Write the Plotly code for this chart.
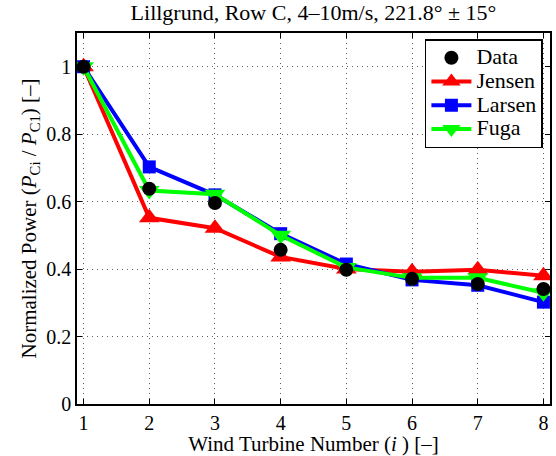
import plotly.graph_objects as go

turbines = [1, 2, 3, 4, 5, 6, 7, 8]
data_vals = [1.0, 0.638, 0.596, 0.457, 0.398, 0.371, 0.356, 0.341]
jensen_vals = [1.0, 0.552, 0.521, 0.436, 0.400, 0.392, 0.398, 0.380]
larsen_vals = [1.0, 0.703, 0.620, 0.505, 0.415, 0.368, 0.352, 0.302]
fuga_vals = [1.0, 0.633, 0.622, 0.500, 0.405, 0.374, 0.374, 0.330]
x_ticks = [1, 2, 3, 4, 5, 6, 7, 8]
y_ticks = [0, 0.2, 0.4, 0.6, 0.8, 1]
y_labels = ["0", "0.2", "0.4", "0.6", "0.8", "1"]

font = "Liberation Serif"


def leg(name):
    return f"<span style='font-size:22px;font-family:Liberation Serif'>{name}</span>"


fig = go.Figure()
fig.add_trace(go.Scatter(x=turbines, y=jensen_vals, name=leg("Jensen"), mode="lines+markers",
                         line=dict(color="#ff0000", width=4),
                         marker=dict(symbol="triangle-up", size=18, color="#ff0000"), legendrank=2))
fig.add_trace(go.Scatter(x=turbines, y=larsen_vals, name=leg("Larsen"), mode="lines+markers",
                         line=dict(color="#0000ff", width=4),
                         marker=dict(symbol="square", size=13, color="#0000ff"), legendrank=3))
fig.add_trace(go.Scatter(x=turbines, y=fuga_vals, name=leg("Fuga"), mode="lines+markers",
                         line=dict(color="#00ff00", width=4),
                         marker=dict(symbol="triangle-down", size=18, color="#00ff00"), legendrank=4))
fig.add_trace(go.Scatter(x=turbines, y=data_vals, name=leg("Data"), mode="markers",
                         marker=dict(symbol="circle", size=14, color="#000000"), legendrank=1))

axis_common = dict(showline=True, linecolor="black", linewidth=1.5, mirror="ticks",
                   ticks="inside", ticklen=5, tickcolor="black",
                   showgrid=True, gridcolor="#606060", griddash="1px,4px", gridwidth=1,
                   zeroline=False, tickfont=dict(family=font, size=20, color="black"))

fig.update_layout(
    width=556, height=456,
    margin=dict(l=77, r=4, t=33, b=52),
    paper_bgcolor="white", plot_bgcolor="white",
    font=dict(family=font, size=20, color="black"),
    title=dict(text="Lillgrund, Row C, 4–10m/s, 221.8° ± 15°", x=0.5, xref="paper", xanchor="center",
               y=0.99, yanchor="top", font=dict(family=font, size=22)),
    xaxis=dict(range=[0.9, 8.1], tickvals=x_ticks,
               title=dict(text="Wind Turbine Number (<i>i</i> ) [–]", standoff=1,
                          font=dict(family=font, size=21)),
               **axis_common),
    yaxis=dict(range=[0, 1.1], tickvals=y_ticks, ticktext=y_labels,
               title=dict(text="Normalized Power (<i>P</i><sub>Ci</sub> / <i>P</i><sub>C1</sub>) [–]",
                          standoff=4, font=dict(family=font, size=21)),
               **axis_common),
    legend=dict(x=0.985, y=0.983, xanchor="right", yanchor="top",
                bordercolor="black", borderwidth=1.5, bgcolor="white",
                font=dict(family=font, size=16), tracegroupgap=0, itemwidth=40),
    showlegend=True,
)

fig.write_html("out.html")
